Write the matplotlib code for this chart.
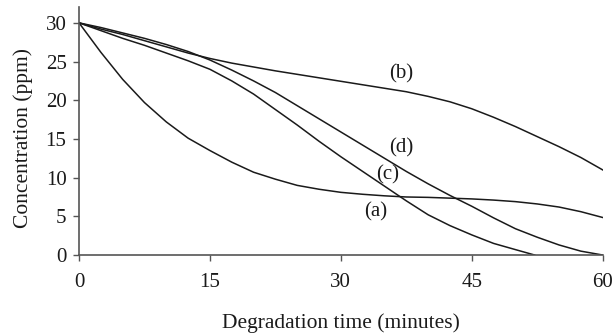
import matplotlib
matplotlib.use("Agg")
import matplotlib.pyplot as plt

plt.rcParams['font.family'] = ['Liberation Serif', 'DejaVu Serif']

# Degradation time (minutes)
time_ab = [0, 2.5, 5, 7.5, 10, 12.5, 15, 17.5, 20, 22.5, 25, 27.5, 30,
           32.5, 35, 37.5, 40, 42.5, 45, 47.5, 50, 52.5, 55, 57.5, 60]
time_c = [0, 2.5, 5, 7.5, 10, 12.5, 15, 17.5, 20, 22.5, 25, 27.5, 30,
          32.5, 35, 37.5, 40, 42.5, 45, 47.5, 50, 52.2]

# Concentration (ppm)
conc_a = [30, 26.2, 22.7, 19.7, 17.2, 15.1, 13.5, 12.0, 10.7, 9.8, 9.0, 8.5, 8.1,
          7.85, 7.65, 7.5, 7.45, 7.35, 7.25, 7.1, 6.9, 6.6, 6.2, 5.6, 4.85]
conc_b = [30, 29.2, 28.5, 27.7, 26.9, 26.1, 25.4, 24.8, 24.3, 23.8, 23.35, 22.9, 22.45,
          22.0, 21.55, 21.1, 20.5, 19.8, 18.9, 17.8, 16.6, 15.3, 14.0, 12.6, 11.0]
conc_c = [30, 29.0, 28.0, 27.1, 26.1, 25.1, 24.0, 22.5, 20.8, 18.8, 16.8, 14.7, 12.7,
          10.8, 8.9, 7.0, 5.2, 3.8, 2.6, 1.5, 0.7, 0]
conc_d = [30, 29.4, 28.7, 28.0, 27.2, 26.3, 25.2, 23.9, 22.5, 21.0, 19.3, 17.6, 15.9,
          14.2, 12.5, 10.8, 9.2, 7.7, 6.3, 4.8, 3.4, 2.3, 1.3, 0.5, 0]

series_labels = ['(a)', '(b)', '(c)', '(d)']
label_pos = [(34.0, 5.6), (36.9, 23.4), (35.4, 10.3), (36.9, 13.9)]

x_ticks = [0, 15, 30, 45, 60]
y_ticks = [0, 5, 10, 15, 20, 25, 30]

fig = plt.figure(figsize=(6.15, 3.36), dpi=100)
ax = fig.add_axes([0.1285, 0.241, 0.8515, 0.737])

for t, c in [(time_ab, conc_a), (time_ab, conc_b), (time_c, conc_c), (time_ab, conc_d)]:
    ax.plot(t, c, color='#1a1a1a', linewidth=1.1, solid_joinstyle='round')

for lab, (x, y) in zip(series_labels, label_pos):
    ax.text(x, y, lab, fontsize=15, ha='center', va='center', color='#1a1a1a')

ax.set_xlim(0, 60)
ax.set_ylim(0, 32)
ax.set_xticks(x_ticks)
ax.set_yticks(y_ticks)
ax.tick_params(axis='both', labelsize=15, labelcolor='#1a1a1a', length=4, width=1.0,
               color='#555555')
ax.tick_params(axis='x', pad=9)
ax.tick_params(axis='y', pad=5)

for s in ['top', 'right']:
    ax.spines[s].set_visible(False)
for s in ['left', 'bottom']:
    ax.spines[s].set_color('#555555')
    ax.spines[s].set_linewidth(1.2)

ax.set_xlabel('Degradation time (minutes)', fontsize=15.5, color='#1a1a1a')
ax.set_ylabel('Concentration (ppm)', fontsize=15.5, color='#1a1a1a')
ax.xaxis.set_label_coords(0.5, -0.235)
ax.yaxis.set_label_coords(-0.088, 0.471)

fig.savefig('out.png', dpi=100)
